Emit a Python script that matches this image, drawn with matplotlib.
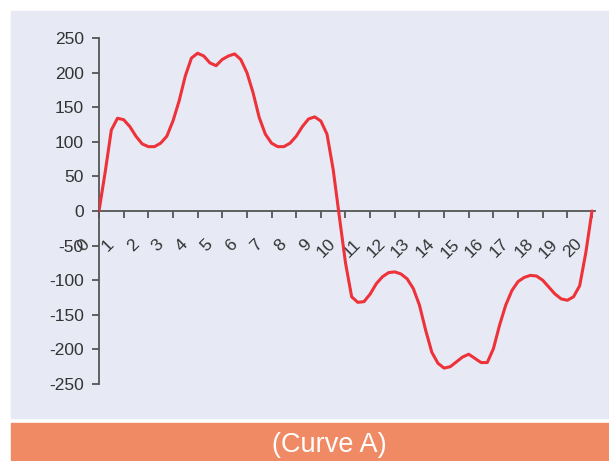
import matplotlib
matplotlib.use("Agg")
import matplotlib.pyplot as plt
from matplotlib.patches import Rectangle
from matplotlib.transforms import ScaledTranslation
import numpy as np

plt.rcParams['font.family'] = ['Liberation Sans', 'DejaVu Sans']

# curve values, every quarter unit
x = np.arange(0, 20.01, 0.25)
y = [0, 56, 117, 134, 132, 122, 108, 97, 93, 93, 98, 108,
     130, 159, 195, 221, 228, 224, 214, 210, 219, 224, 227, 219,
     200, 171, 135, 111, 98, 93, 93, 98, 108, 122, 133, 136,
     130, 111, 60, -8, -75, -124, -132, -131, -120, -105, -95, -89,
     -88, -91, -98, -112, -136, -172, -204, -220, -227, -225, -218, -211,
     -207, -213, -219, -219, -199, -165, -136, -115, -102, -96, -93, -94,
     -100, -110, -120, -127, -129, -124, -108, -60, 0]
xticks = list(range(0, 21))
yticks = list(range(-250, 251, 50))
caption = "(Curve A)"

fig = plt.figure(figsize=(6.09, 4.61), dpi=100)
W, H = 609, 461

# background panel and caption banner (behind the axes)
fig.patches.append(Rectangle((11 / W, 1 - 418 / H), 1, (418 - 11) / H,
                             transform=fig.transFigure, color='#e7e9f5', zorder=-2))
fig.patches.append(Rectangle((11 / W, 0), 1, (H - 423) / H,
                             transform=fig.transFigure, color='#ef8a64', zorder=-2))
fig.text(329 / W, 1 - 445 / H, caption, color='white', fontsize=19.5,
         ha='center', va='center')

ax = fig.add_axes([99 / W, 1 - 384 / H, (595 - 99) / W, (384 - 38) / H])
ax.patch.set_alpha(0)
ax.plot(x, y, color='#ee3239', lw=2.2, zorder=3,
        solid_joinstyle='round', solid_capstyle='round')

ax.set_xlim(0, (595 - 99) / 24.65)
ax.set_ylim(-250, 250)

for s in ['top', 'right']:
    ax.spines[s].set_visible(False)
ax.spines['bottom'].set_position(('data', 0))
ax.spines['left'].set_bounds(-250, 250)
for s in ['bottom', 'left']:
    ax.spines[s].set_color('#555555')
    ax.spines[s].set_linewidth(1.3)

ax.set_yticks(yticks)
ax.set_yticklabels([str(v) for v in yticks])
ax.set_xticks(xticks)
ax.set_xticklabels([str(v) for v in xticks], rotation=45, rotation_mode='anchor',
                   ha='right', va='center')
ax.tick_params(axis='both', length=5, width=1.3, color='#555555',
               labelcolor='#333333', labelsize=12.5)
ax.tick_params(axis='y', pad=6)
ax.tick_params(axis='x', pad=17)

shift = ScaledTranslation(-12 / 100, 0, fig.dpi_scale_trans)
for lab in ax.get_xticklabels():
    lab.set_transform(lab.get_transform() + shift)

fig.savefig('out.png', dpi=100, facecolor='white')
